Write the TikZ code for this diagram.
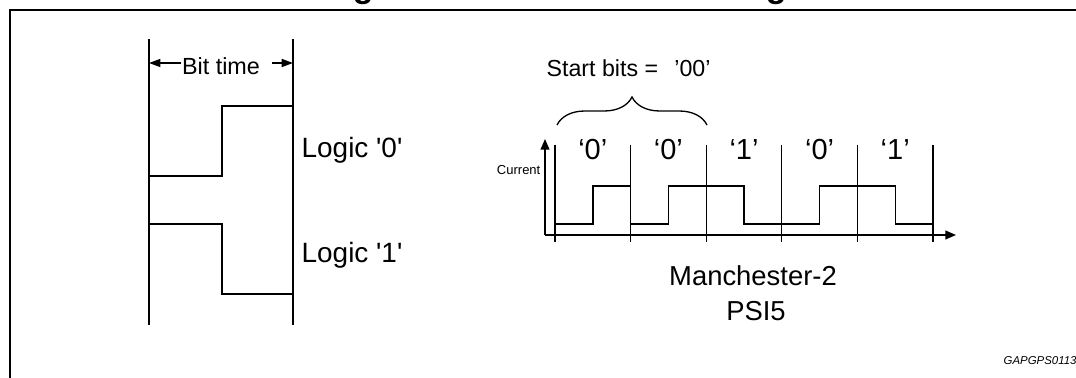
\documentclass[tikz,border=0pt]{standalone}
\usepackage{fontspec}
\setmainfont{Liberation Sans}
\usetikzlibrary{arrows.meta,decorations.pathreplacing}
\begin{document}
\begin{tikzpicture}[x=0.02cm,y=-0.02cm,line width=0.75pt]
    \tikzset{txt/.style={inner sep=0pt,font=\fontsize{#1}{#1}\selectfont},
             txt/.default=15.9pt,
             tip/.style={-{Triangle[length=6.5pt,width=4.6pt]}},
             axis/.style={-{Triangle[length=6pt,width=5pt]}}}
    \useasboundingbox (0,0) rectangle (1076,378);
    \clip (0,0) rectangle (1076,378);
    \node[anchor=base west,inner sep=0pt,font=\bfseries\fontsize{19.35pt}{20pt}\selectfont] (title) at (322,-2) {Figure 4. Manchester coding};
    \draw[line width=1.7pt] (10,390) |- (1090,10);
    \draw (149,39) -- (149,325);
    \draw (293,39) -- (293,325);
    \node[txt=13.3pt,anchor=base] (bittime) at (221,75) {Bit time};
    \coordinate (bl) at (149,63);
    \coordinate (br) at (293,63);
    \coordinate (bs) at (272,63);
    \draw[tip] (bittime.west |- bl) -- (bl);
    \draw[tip] (bs) -- (br);
    \draw (149,176) -| (222,106) -- (293,106);
    \draw (149,224) -| (222,294) -- (293,294);
    \node[txt,anchor=base west] (logic0) at (301,158) {Logic \textquotesingle0\textquotesingle};
    \node[txt,anchor=base west] (logic1) at (301,263) {Logic \textquotesingle1\textquotesingle};
    \node[txt=13.2pt,anchor=base west] (start) at (546,77) {Start bits =\hspace{0.7em}’00’};
    \draw[decorate,decoration={brace,amplitude=0.56cm}] (557,125) -- (707,125);
    \coordinate (o) at (545,235);
    \draw[axis] (o) -- (545,139);
    \draw[axis] (o) -- (956,235);
    \node[txt=7.4pt,anchor=base east] (current) at (541,175) {Current};
    \foreach \i in {0,...,5}
        \draw (555+75.6*\i,145) -- (555+75.6*\i,242);
    \foreach \b [count=\i] in {0,0,1,0,1}
        \node[txt=16.5pt,anchor=base] (bit\i) at (555+75.6*\i-37.8,160) {‘\b’};
    \draw[line width=1.1pt] (555,224) -- (592.8,224) -- (592.8,186) -- (630.6,186);
    \draw (630.6,186) -- (630.6,224) -- (668.4,224) -- (668.4,186) -- (744,186) -- (744,224)
        -- (819.6,224) -- (819.6,186) -- (895.2,186) -- (895.2,224) -- (933,224);
    \node[txt=15.6pt,anchor=base] (manch) at (753,286) {Manchester-2};
    \node[txt=15.6pt,anchor=base] (psi) at (756,321) {PSI5};
    \node[anchor=base west,inner sep=0pt,font=\itshape\fontsize{6.5pt}{7.5pt}\selectfont] (ref) at (1003,365) {GAPGPS01133};
\end{tikzpicture}
\end{document}
